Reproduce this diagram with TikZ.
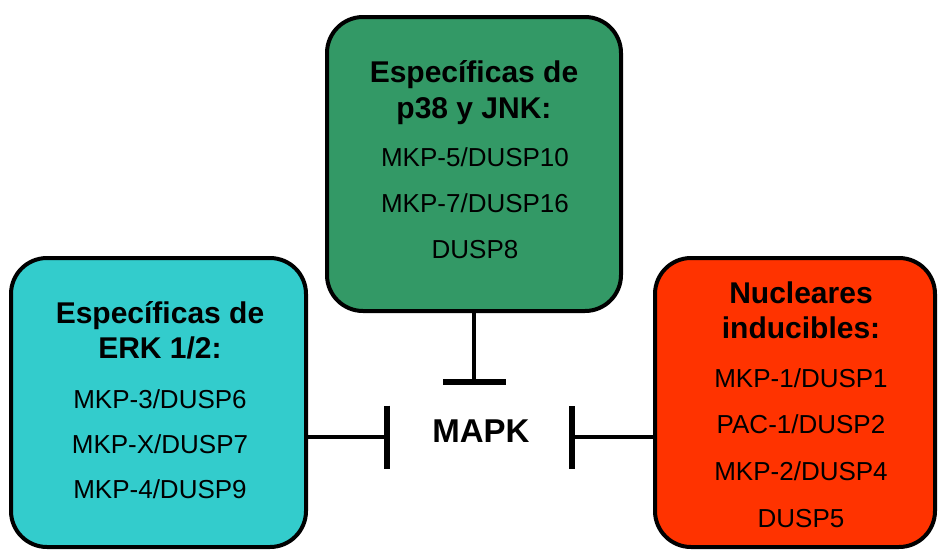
\documentclass[tikz,border=0pt]{standalone}
\usepackage{fontspec}
\setmainfont{Liberation Sans}
\usepackage{tikz}
\usetikzlibrary{arrows.meta, positioning, calc}

\definecolor{boxgreen}{RGB}{51,153,102}
\definecolor{boxcyan}{RGB}{51,204,204}
\definecolor{boxred}{RGB}{255,51,0}

\begin{document}
\begin{tikzpicture}[x=1pt, y=-1pt,
        group/.style={rectangle, draw=black, line width=4pt, rounded corners=36pt, inner sep=0pt},
        title/.style={anchor=base, inner sep=0pt, font=\bfseries\fontsize{30}{36}\selectfont},
        entry/.style={anchor=base, inner sep=0pt, font=\fontsize{26}{31}\selectfont},
        inhibit/.style={-{Bar[width=63pt, line width=6pt]}, line width=4.5pt, black}
    ]
        \useasboundingbox (0,0) rectangle (938,550);

        % Groups of phosphatases
        \node[group, fill=boxgreen, minimum width=294pt, minimum height=294pt] (p38) at (474,164) {};
        \node[group, fill=boxcyan, minimum width=295pt, minimum height=289pt] (erk) at (158.5,402.5) {};
        \node[group, fill=boxred, minimum width=280pt, minimum height=289pt] (nuc) at (795,402.5) {};

        % p38 / JNK
        \node[title] (p38t1) at (474,82) {Específicas de};
        \node[title] (p38t2) at (474,118) {p38 y JNK:};
        \node[entry] (p38e1) at (475,166) {MKP-5/DUSP10};
        \node[entry] (p38e2) at (475,212) {MKP-7/DUSP16};
        \node[entry] (p38e3) at (475,258) {DUSP8};

        % ERK 1/2
        \node[title] (erkt1) at (160,323) {Específicas de};
        \node[title] (erkt2) at (160,358) {ERK 1/2:};
        \node[entry] (erke1) at (160,408) {MKP-3/DUSP6};
        \node[entry] (erke2) at (160,453) {MKP-X/DUSP7};
        \node[entry] (erke3) at (160,498) {MKP-4/DUSP9};

        % Nucleares
        \node[title] (nuct1) at (801,303) {Nucleares};
        \node[title] (nuct2) at (801,338) {inducibles:};
        \node[entry] (nuce1) at (801,387) {MKP-1/DUSP1};
        \node[entry] (nuce2) at (801,433) {PAC-1/DUSP2};
        \node[entry] (nuce3) at (801,480) {MKP-2/DUSP4};
        \node[entry] (nuce4) at (801,527) {DUSP5};

        % MAPK
        \node[anchor=base, inner sep=0pt, font=\bfseries\fontsize{33}{40}\selectfont] (mapk) at (481,442) {MAPK};

        % Inhibition
        \coordinate (top) at (474,385);
        \coordinate (left) at (390,437);
        \coordinate (right) at (569,437);
        \draw[inhibit] (p38.south) -- (top);
        \draw[inhibit] (left -| erk.east) -- (left);
        \draw[inhibit] (right -| nuc.west) -- (right);

    \end{tikzpicture}
\end{document}
